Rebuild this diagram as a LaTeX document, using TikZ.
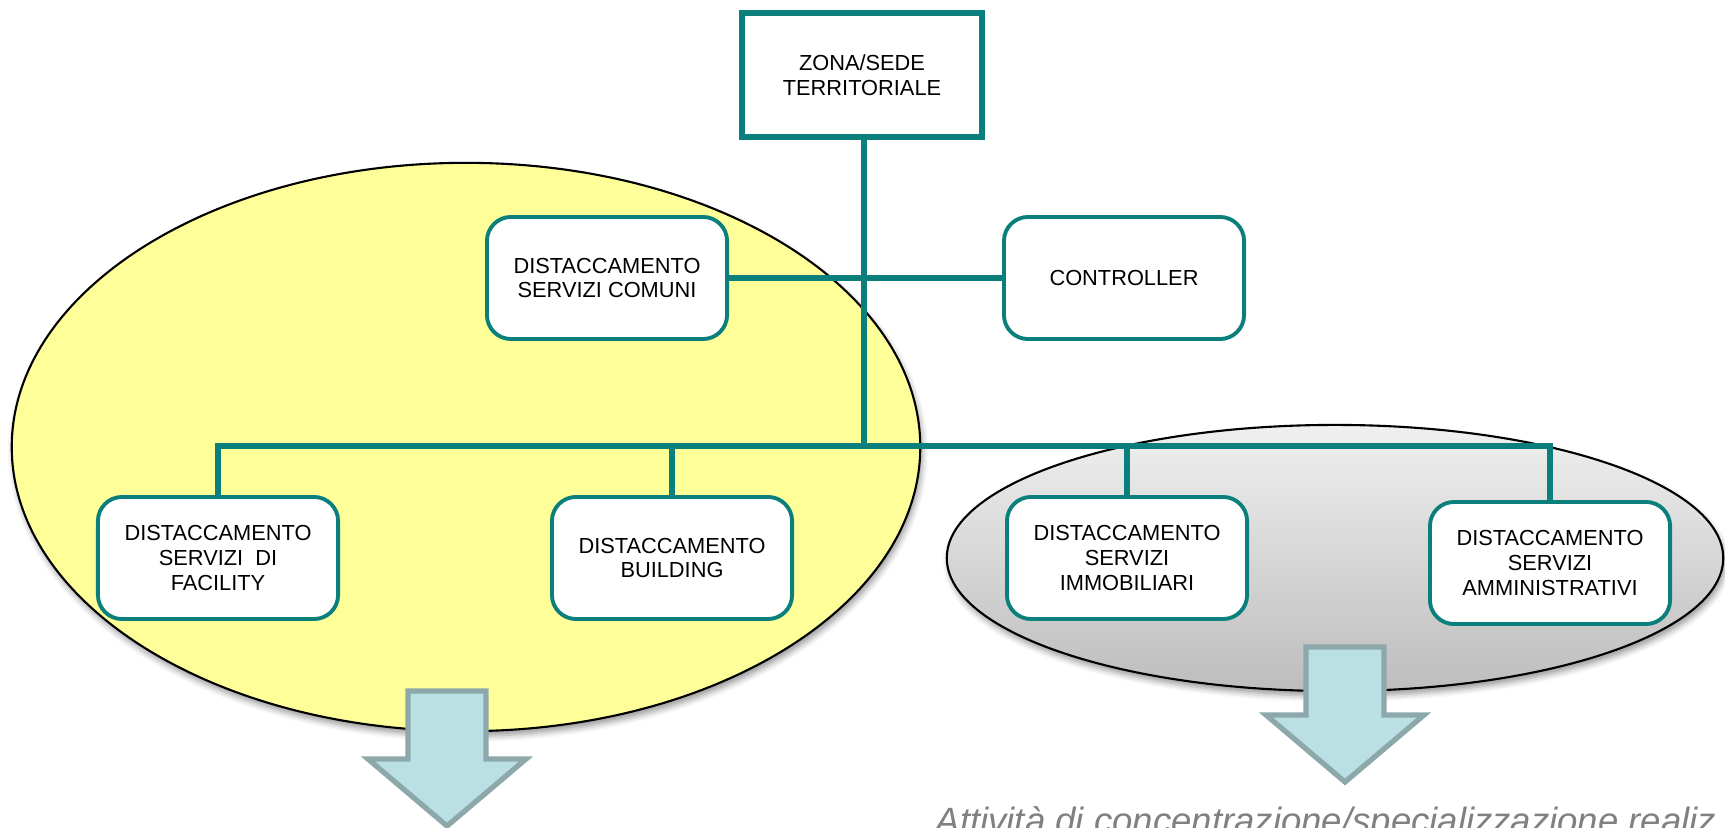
\documentclass[tikz,border=0pt]{standalone}
\usepackage{fontspec}
\setmainfont{Liberation Sans}
\usetikzlibrary{shadows.blur}
\definecolor{tealline}{HTML}{0A7F7C}
\definecolor{yel}{HTML}{FFFF99}
\definecolor{arrfill}{HTML}{BAE0E3}
\definecolor{arrdraw}{HTML}{8DA8AA}
\definecolor{captiongray}{HTML}{808080}
\definecolor{greytop}{HTML}{F0F0F0}
\definecolor{greybot}{HTML}{BDBDBD}
\begin{document}
\begin{tikzpicture}[x=0.01cm,y=-0.01cm,
  boxfont/.style={font=\fontsize{6.2}{7.1}\selectfont},
  orgbox/.style={draw=tealline, line width=1.1pt, rounded corners=0.24cm, fill=white,
    minimum width=2.4cm, minimum height=1.22cm, align=center, inner sep=2pt, boxfont},
  topbox/.style={draw=tealline, line width=1.8pt, fill=white,
    minimum width=2.4cm, minimum height=1.24cm, align=center, inner sep=2pt, boxfont},
  conn/.style={draw=tealline, line width=1.8pt},
  arrowstyle/.style={draw=arrdraw, fill=arrfill, line width=1.5pt, line join=miter},
  downarr/.pic={\path[arrowstyle] (-39,0) -- (39,0) -- (39,68) -- (79,68) -- (0,135)
      -- (-79,68) -- (-39,68) -- cycle;}
  ]
\useasboundingbox (0,0) rectangle (1725,828);
% ellipses
\path[fill=yel, draw=black, line width=0.6pt,
  blur shadow={shadow xshift=0.02cm, shadow yshift=-0.05cm, shadow blur radius=0.06cm}]
  (466,447) ellipse [x radius=4.54cm, y radius=2.84cm];
\path[draw=black, line width=0.6pt, top color=greytop, bottom color=greybot,
  blur shadow={shadow xshift=0.02cm, shadow yshift=-0.05cm, shadow blur radius=0.06cm}]
  (1335,558) ellipse [x radius=3.88cm, y radius=1.33cm];
% nodes
\node[topbox] (zona) at (862,75) {ZONA/SEDE\\TERRITORIALE};
\node[orgbox] (com) at (607,278) {DISTACCAMENTO\\SERVIZI COMUNI};
\node[orgbox] (ctrl) at (1124,278) {CONTROLLER};
\node[orgbox] (fac) at (218,558) {DISTACCAMENTO\\SERVIZI~~DI\\FACILITY};
\node[orgbox] (bld) at (672,558) {DISTACCAMENTO\\BUILDING};
\node[orgbox] (imm) at (1127,558) {DISTACCAMENTO\\SERVIZI\\IMMOBILIARI};
\node[orgbox] (amm) at (1550,563) {DISTACCAMENTO\\SERVIZI\\AMMINISTRATIVI};
% connectors
\coordinate (bus) at (864,446);
\draw[conn] (zona.south -| bus) -- (bus);
\draw[conn] (com.east) -- (ctrl.west);
\draw[conn] (fac.north) |- (bus);
\draw[conn] (amm.north) |- (bus);
\draw[conn] (bld.north) -- (bld.north |- bus);
\draw[conn] (imm.north) -- (imm.north |- bus);
% arrows
\pic at (447,691) {downarr};
\pic at (1345,647) {downarr};
% caption
\node[anchor=base west, inner sep=0pt, font=\fontsize{10.4}{12}\selectfont\itshape,
  text=captiongray] (cap) at (935,833) {Attività di concentrazione/specializzazione realiz};
\end{tikzpicture}
\end{document}
